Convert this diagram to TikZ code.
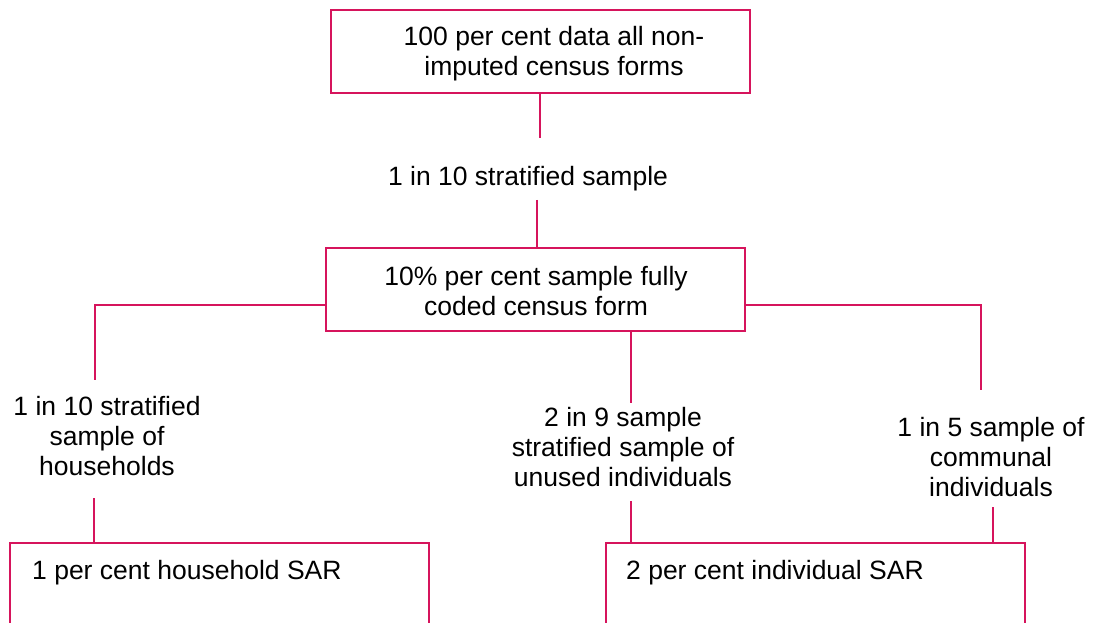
\documentclass[tikz,border=0pt]{standalone}
\usepackage{fontspec}
\setmainfont{Liberation Sans}
\definecolor{linec}{RGB}{214,20,92}
\begin{document}
\begin{tikzpicture}[x=1pt,y=-1pt,
  conn/.style={draw=linec,line width=2pt},
  box/.style={draw=linec,line width=2pt,rectangle,inner sep=0pt,outer sep=0pt},
  txt/.style={font=\fontsize{26.5}{30}\selectfont,align=center,inner sep=0pt,text=black},
  ltxt/.style={font=\fontsize{26.5}{30}\selectfont,anchor=west,inner sep=0pt,text=black}]
\useasboundingbox (0,0) rectangle (1093,623);
\clip (0,0) rectangle (1093,623);
\fill[white] (0,0) rectangle (1093,623);
% boxes
\node[box,minimum width=419,minimum height=83] (top) at (540,51.5) {};
\node[txt] (topt) at (554,54) {100 per cent data all non-\\imputed census forms};
\node[box,minimum width=419,minimum height=83] (box2) at (535.5,289.5) {};
\node[txt] (box2t) at (536,291) {10\% per cent sample fully\\coded census form};
\node[box,minimum width=419,minimum height=157] (bl) at (219.5,621.5) {};
\node[ltxt] (blt) at (32,573) {1 per cent household SAR};
\node[box,minimum width=419,minimum height=157] (br) at (815.5,621.5) {};
\node[ltxt] (brt) at (626,573) {2 per cent individual SAR};
% labels
\node[txt] (s1) at (528,179) {1 in 10 stratified sample};
\node[txt] (hh) at (107,436) {1 in 10 stratified\\sample of\\households};
\node[txt] (ui) at (623,447) {2 in 9 sample\\stratified sample of\\unused individuals};
\node[txt] (ci) at (991,457) {1 in 5 sample of\\communal\\individuals};
% connector coordinates
\coordinate (c1a) at (540,138);
\coordinate (c1b) at (537,200);
\coordinate (jl) at (95,305);
\coordinate (el) at (95,380);
\coordinate (el2) at (94,498);
\coordinate (em) at (631,403);
\coordinate (em2) at (631,501);
\coordinate (jr) at (981,305);
\coordinate (er) at (981,390);
\coordinate (er2) at (993,507);
% connectors
\draw[conn] (top.south) -- (c1a);
\draw[conn] (c1b) -- (c1b |- box2.north);
\draw[conn] (jl -| box2.west) -- (jl) -- (el);
\draw[conn] (el2) -- (el2 |- bl.north);
\draw[conn] (box2.south -| em) -- (em);
\draw[conn] (em2) -- (em2 |- br.north);
\draw[conn] (jr -| box2.east) -- (jr) -- (er);
\draw[conn] (er2) -- (er2 |- br.north);
\end{tikzpicture}
\end{document}
